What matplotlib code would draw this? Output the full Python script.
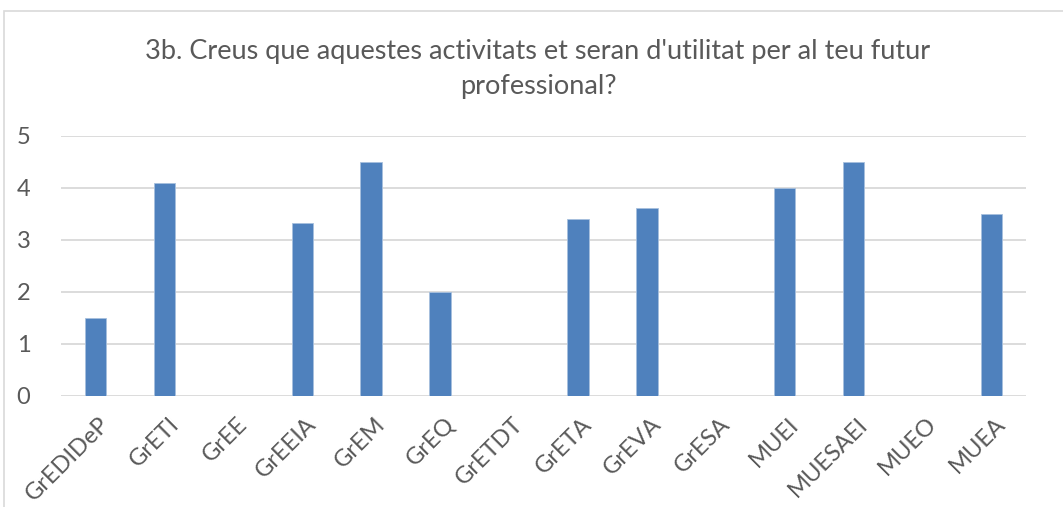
import matplotlib.pyplot as plt
from matplotlib.patches import Rectangle
import matplotlib.transforms as mtransforms

plt.rcParams['font.family'] = ['Lato', 'DejaVu Sans']

# Data
categories = ['GrEDIDeP', 'GrETI', 'GrEE', 'GrEEIA', 'GrEM', 'GrEQ', 'GrETDT',
              'GrETA', 'GrEVA', 'GrESA', 'MUEI', 'MUESAEI', 'MUEO', 'MUEA']
values = [1.5, 4.1, 0, 3.33, 4.5, 2.0, 0, 3.4, 3.62, 0, 4.0, 4.5, 0, 3.5]
yticks = [0, 1, 2, 3, 4, 5]
title = "3b. Creus que aquestes activitats et seran d'utilitat per al teu futur\nprofessional?"

text_color = '#595959'
bar_color = '#4F81BD'
grid_color = '#D9D9D9'

W, H = 1063, 507
fig = plt.figure(figsize=(W / 100, H / 100), dpi=100)
fig.patch.set_facecolor('white')

# chart area border (cropped on right/bottom)
fig.patches.append(Rectangle((4 / W, -0.1), 1.2, (H - 11) / H + 0.1,
                             transform=fig.transFigure, fill=False,
                             edgecolor=grid_color, linewidth=1.2))

ax = fig.add_axes([61 / W, 1 - 396 / H, (1026 - 61) / W, (396 - 136) / H])
x = range(len(categories))
ax.bar(x, values, width=0.31, color=bar_color, edgecolor='#A7C0DE',
       linewidth=0.6, zorder=3)

ax.set_xlim(-0.5, len(categories) - 0.5)
ax.set_ylim(0, 5)
ax.set_yticks(yticks)
ax.yaxis.grid(True, color=grid_color, linewidth=1.3, zorder=0)
ax.set_axisbelow(True)
for s in ax.spines.values():
    s.set_visible(False)
ax.tick_params(axis='both', length=0, colors=text_color, labelsize=17)
ax.tick_params(axis='y', pad=22)

ax.set_xticks(list(x))
ax.set_xticklabels(categories, rotation=45, ha='right', va='center',
                   rotation_mode='anchor')
offset = mtransforms.ScaledTranslation(11 / 100, -20 / 100, fig.dpi_scale_trans)
for lab in ax.get_xticklabels():
    lab.set_transform(lab.get_transform() + offset)

fig.text(538 / W, 1 - 69 / H, title, ha='center', va='center', fontsize=19.5,
         color=text_color, linespacing=1.5)

fig.savefig('out.png', dpi=100)
